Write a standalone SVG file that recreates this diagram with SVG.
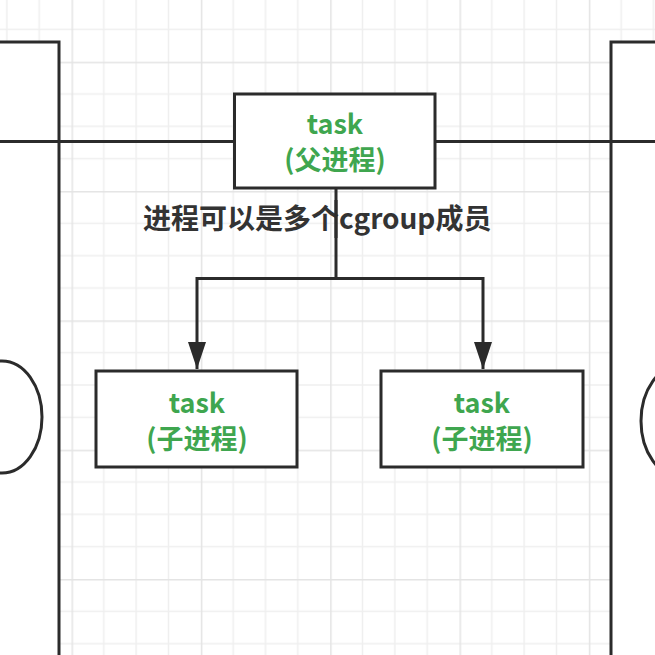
<svg xmlns="http://www.w3.org/2000/svg" width="655" height="655" viewBox="0 0 655 655">
  <style>
    .box { fill: #ffffff; stroke: #2b2b2b; stroke-width: 3; }
    .edge { fill: none; stroke: #2b2b2b; stroke-width: 3; }
    .green { font-family: "Noto Sans CJK SC", "Noto Sans", sans-serif; font-weight: bold; font-size: 27px; fill: #3fa64f; text-anchor: middle; }
    .label { font-family: "Noto Sans CJK SC", "Noto Sans", sans-serif; font-weight: bold; font-size: 28px; fill: #333333; }
  </style>
  <defs>
    <pattern id="grid" patternUnits="userSpaceOnUse" x="71.5" y="61.7" width="129.33" height="129.33">
      <path d="M32.33 0V129.33M64.67 0V129.33M97 0V129.33M0 32.33H129.33M0 64.67H129.33M0 97H129.33" stroke="#efefef" stroke-width="1.5" fill="none"/>
      <path d="M0.75 0V129.33M0 0.75H129.33" stroke="#e4e4e4" stroke-width="1.5" fill="none"/>
    </pattern>
    <marker id="arrow" markerUnits="userSpaceOnUse" markerWidth="28" markerHeight="18" refX="27" refY="9" orient="auto" viewBox="0 0 28 18">
      <path d="M0 0L27 9L0 18Z" fill="#2b2b2b"/>
    </marker>
  </defs>
  <rect width="655" height="655" fill="#ffffff"/>
  <rect width="655" height="655" fill="url(#grid)"/>

  <g id="left-group">
    <rect class="box" x="-20" y="42" width="79" height="640"/>
    <ellipse class="edge" cx="2" cy="417" rx="40" ry="56"/>
  </g>
  <g id="right-group">
    <rect class="box" x="611" y="42" width="80" height="640"/>
    <ellipse class="edge" cx="681" cy="421" rx="40" ry="56"/>
  </g>

  <g id="connectors">
    <path class="edge" d="M-5 141.5H234M435 141.5H660"/>
    <path class="edge" d="M336 188V278.5H197V369" marker-end="url(#arrow)"/>
    <path class="edge" d="M336 278.5H483V369" marker-end="url(#arrow)"/>
  </g>

  <g id="parent">
    <rect class="box" x="234.5" y="94" width="200.5" height="94"/>
    <text class="green" x="335" y="134">task</text>
    <text class="green" x="335" y="170">(父进程)</text>
  </g>

  <text class="label" x="143" y="229">进程可以是多个cgroup成员</text>
  <path class="edge" d="M336 200V238"/>

  <g id="child1">
    <rect class="box" x="96" y="371" width="201" height="96"/>
    <text class="green" x="197" y="413">task</text>
    <text class="green" x="197" y="449">(子进程)</text>
  </g>
  <g id="child2">
    <rect class="box" x="381" y="371" width="202" height="96"/>
    <text class="green" x="482" y="413">task</text>
    <text class="green" x="482" y="449">(子进程)</text>
  </g>
</svg>
